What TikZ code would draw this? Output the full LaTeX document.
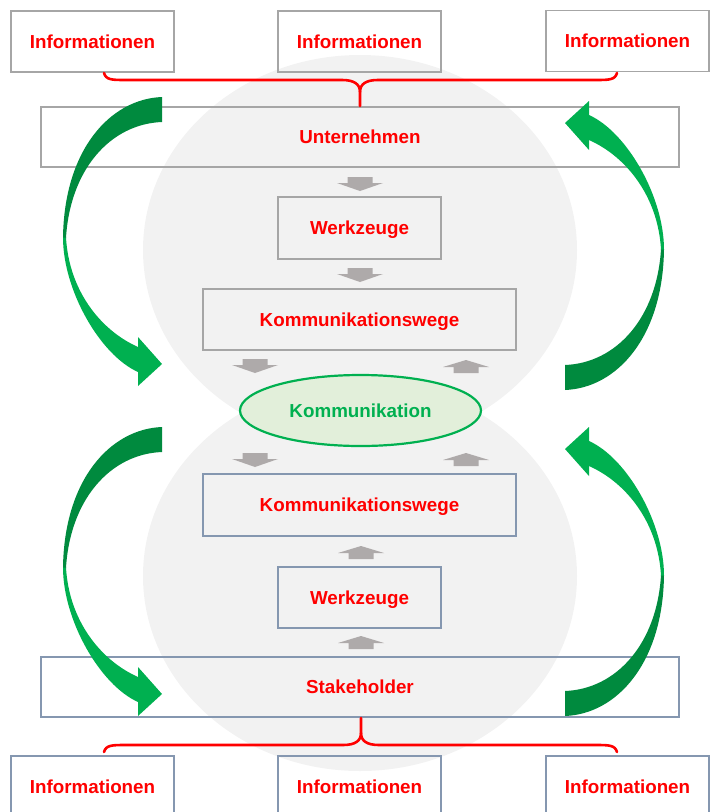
\documentclass[tikz,border=0pt]{standalone}
\usepackage{fontspec}
\setmainfont{Liberation Sans}
\usetikzlibrary{shapes.geometric}
\definecolor{txtred}{HTML}{FF0000}
\definecolor{linegray}{HTML}{A6A6A6}
\definecolor{lineblue}{HTML}{8597B0}
\definecolor{circgray}{HTML}{F2F2F2}
\definecolor{arrgray}{HTML}{AEAAAA}
\definecolor{kgreen}{HTML}{00B050}
\definecolor{dgreen}{HTML}{008A3E}
\definecolor{lgreen}{HTML}{E2EFDA}
\newcommand{\greenarrowshape}{%
  \fill[dgreen] (162,97) .. controls (110,99) and (64,150) .. (63,238)
    -- (66,238) .. controls (70,170) and (110,124) .. (162,122) -- cycle;
  \fill[kgreen] (63,237.5) .. controls (63,290) and (100,355) .. (138,372)
    -- (138,386) -- (162,364) -- (138,337) -- (138,347)
    .. controls (100,330) and (69,290) .. (66,237.5) -- cycle;
}
\tikzset{
  txt/.style={font=\bfseries\fontsize{18.8}{22}\selectfont, text height=13.6pt, text depth=0pt},
  gbox/.style={txt, draw=linegray, line width=1.8pt, inner sep=0pt, text=txtred},
  bbox/.style={txt, draw=lineblue, line width=1.8pt, inner sep=0pt, text=txtred},
  infobox/.style={minimum width=163pt, minimum height=61pt},
  brace/.style={draw=txtred, line width=2.6pt, line cap=round},
  downarr/.pic={\fill[arrgray] (-12.5,0) -- (12.5,0) -- (12.5,6) -- (23,6) -- (0,14) -- (-23,6) -- (-12.5,6) -- cycle;},
  uparr/.pic={\fill[arrgray] (0,0) -- (23,7) -- (12.5,7) -- (12.5,13) -- (-12.5,13) -- (-12.5,7) -- (-23,7) -- cycle;}
}
\begin{document}
\begin{tikzpicture}[x=1pt,y=-1pt]
\useasboundingbox (0,0) rectangle (710,812);
% background circles
\fill[circgray] (360,250) ellipse [x radius=217pt, y radius=195pt];
\fill[circgray] (360,576) ellipse [x radius=217pt, y radius=195pt];
% top information boxes
\node[gbox, infobox] (it1) at (92.5,41.5) {Informationen};
\node[gbox, infobox] (it2) at (359.5,41.5) {Informationen};
\node[gbox, infobox] (it3) at (627.5,41) {Informationen};
% upper part
\node[gbox, minimum width=638pt, minimum height=60pt] (unt) at (360,137) {Unternehmen};
\node[gbox, minimum width=163pt, minimum height=62pt] (wz1) at (359.5,228) {Werkzeuge};
\node[gbox, minimum width=313pt, minimum height=61pt] (kw1) at (359.5,319.5) {Kommunikationswege};
% center
\node[ellipse, draw=kgreen, line width=2.2pt, fill=lgreen, txt, text=kgreen,
      minimum width=241pt, minimum height=71pt, inner sep=0pt] (kom) at (360.5,410.5) {Kommunikation};
% lower part
\node[bbox, minimum width=313pt, minimum height=62pt] (kw2) at (359.5,505) {Kommunikationswege};
\node[bbox, minimum width=163pt, minimum height=61pt] (wz2) at (359.5,597.5) {Werkzeuge};
\node[bbox, minimum width=638pt, minimum height=60pt] (stk) at (360,687) {Stakeholder};
% bottom information boxes
\node[bbox, infobox] (ib1) at (92.5,786.5) {Informationen};
\node[bbox, infobox] (ib2) at (359.5,786.5) {Informationen};
\node[bbox, infobox] (ib3) at (627.5,786.5) {Informationen};
% gray block arrows
\pic at (360,177) {downarr};
\pic at (360,268) {downarr};
\pic at (255,359) {downarr};
\pic at (466,360) {uparr};
\pic at (255,453) {downarr};
\pic at (466,453) {uparr};
\pic at (361,546) {uparr};
\pic at (361,636) {uparr};
% braces
\draw[brace] (104,73) .. controls (106,80) and (112,80) .. (126,80) -- (342,80)
  .. controls (354,80) and (360,84) .. (360,92) -- (unt.north);
\draw[brace] (617,73) .. controls (615,80) and (609,80) .. (595,80) -- (378,80)
  .. controls (366,80) and (360,84) .. (360,92);
\draw[brace] (104,752) .. controls (106,745) and (112,745) .. (126,745) -- (343,745)
  .. controls (355,745) and (361,741) .. (361,733) -- (361,718);
\draw[brace] (617,752) .. controls (615,745) and (609,745) .. (595,745) -- (379,745)
  .. controls (367,745) and (361,741) .. (361,733);
% green curved arrows
\begin{scope}\greenarrowshape\end{scope}
\begin{scope}[shift={(0,330)}]\greenarrowshape\end{scope}
\begin{scope}[rotate around={180:(363.5,243.5)}]\greenarrowshape\end{scope}
\begin{scope}[rotate around={180:(363.5,406.5)}]\greenarrowshape\end{scope}
\end{tikzpicture}
\end{document}
